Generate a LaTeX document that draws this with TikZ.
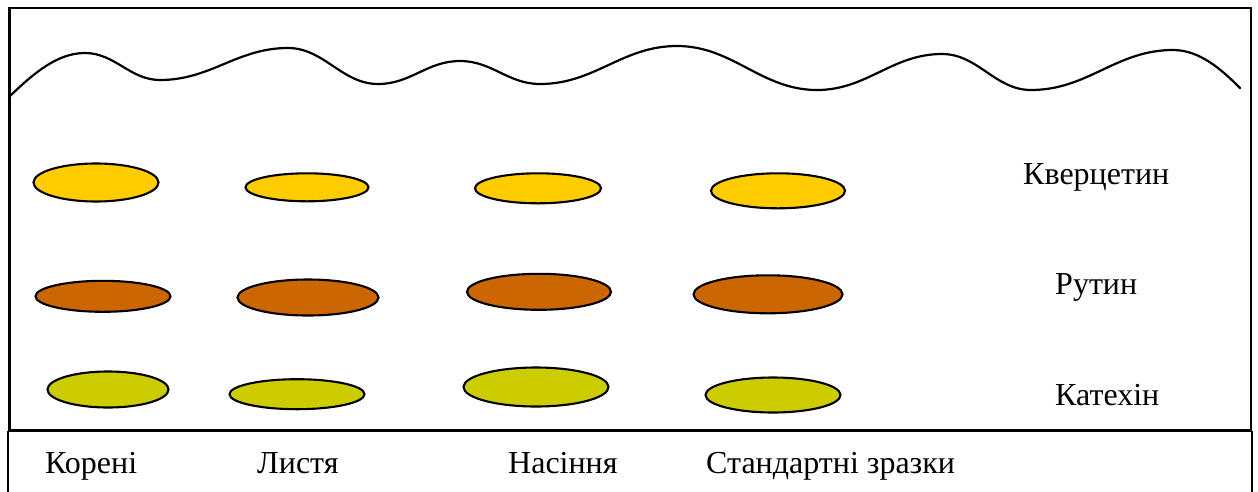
\documentclass[tikz,border=0pt]{standalone}
\usepackage{fontspec}
\setmainfont{Liberation Serif}
\usetikzlibrary{shapes.geometric}
\definecolor{quercetin}{HTML}{FFCC00}
\definecolor{rutin}{HTML}{CC6600}
\definecolor{catechin}{HTML}{CCCC00}
\tikzset{
  spot/.style={ellipse, draw=black, line width=2.1pt, inner sep=0pt},
  frame/.style={draw=black, line width=2.2pt},
  lbl/.style={anchor=base west, inner sep=0pt, font=\fontsize{32}{38}\selectfont},
}
\begin{document}
\begin{tikzpicture}[x=1pt, y=-1pt]
\useasboundingbox (0,0) rectangle (1258,491);

% plate and the start-line strip
\draw[frame] (9.5,8) rectangle (1251,430);
\draw[frame] (8,431) -- (1252,431);
\draw[frame] (8,431) -- (8,495);
\draw[frame] (1252,431) -- (1252,495);

% solvent front: crests and troughs joined with level tangents
\draw[line width=2.2pt, line cap=round]
  (10,96) .. controls (35,72) and (58,53) .. (85,53)
  .. controls (115,53) and (130,80) .. (160,80)
  .. controls (211,80) and (237,48) .. (288,48)
  .. controls (324,48) and (342,84) .. (378,84)
  .. controls (411,84) and (427,61) .. (460,61)
  .. controls (492,61) and (508,84) .. (540,84)
  .. controls (595,84) and (622,46) .. (677,46)
  .. controls (733,46) and (761,90) .. (817,90)
  .. controls (867,90) and (892,54) .. (942,54)
  .. controls (978,54) and (995,90) .. (1031,90)
  .. controls (1088,90) and (1116,50) .. (1173,50)
  .. controls (1200,50) and (1222,70) .. (1240,88);

% quercetin spots
\node[spot, fill=quercetin, minimum width=125pt, minimum height=38pt] (q1) at (96,182.5) {};
\node[spot, fill=quercetin, minimum width=123pt, minimum height=28pt] (q2) at (307,187.3) {};
\node[spot, fill=quercetin, minimum width=126pt, minimum height=30pt] (q3) at (538,188.3) {};
\node[spot, fill=quercetin, minimum width=134pt, minimum height=35pt] (q4) at (778,190.8) {};

% rutin spots
\node[spot, fill=rutin, minimum width=135pt, minimum height=31pt] (r1) at (103,296.3) {};
\node[spot, fill=rutin, minimum width=141pt, minimum height=36pt] (r2) at (308,297.5) {};
\node[spot, fill=rutin, minimum width=144pt, minimum height=36pt] (r3) at (539,291.8) {};
\node[spot, fill=rutin, minimum width=149pt, minimum height=38pt] (r4) at (768,294.3) {};

% catechin spots
\node[spot, fill=catechin, minimum width=121pt, minimum height=36pt] (c1) at (108,389.5) {};
\node[spot, fill=catechin, minimum width=135pt, minimum height=30pt] (c2) at (297,394.2) {};
\node[spot, fill=catechin, minimum width=145pt, minimum height=39pt] (c3) at (536,387) {};
\node[spot, fill=catechin, minimum width=135pt, minimum height=35pt] (c4) at (773,395) {};

% substance names
\node[lbl] (tq) at (1023,184) {Кверцетин};
\node[lbl] (tr) at (1055,294) {Рутин};
\node[lbl] (tc) at (1055,405) {Катехін};

% sample names
\node[lbl] (s1) at (45,473) {Корені};
\node[lbl] (s2) at (257,473) {Листя};
\node[lbl] (s3) at (508,473) {Насіння};
\node[lbl] (s4) at (706,473) {Стандартні зразки};
\end{tikzpicture}
\end{document}
